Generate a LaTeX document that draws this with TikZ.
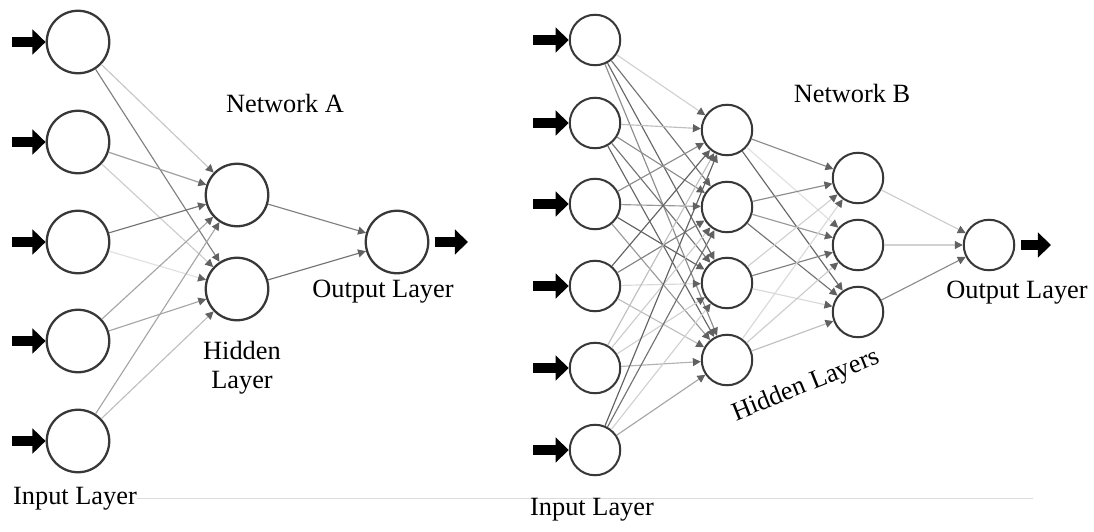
\documentclass[tikz,border=0pt]{standalone}
\usepackage{fontspec}
\setmainfont{Liberation Serif}
\usetikzlibrary{arrows.meta}
\begin{document}
\begin{tikzpicture}[x=0.02cm,y=-0.02cm,
    neuron/.style={draw=black!78,line width=1.3pt,circle,inner sep=0pt},
    link/.style={-{Triangle[length=4.5pt,width=4.5pt,color=black!62]},line width=0.65pt},
    bigarrow/.style={-{Triangle[length=7.5pt,width=14pt]},line width=6.2pt,black},
    lbl/.style={font=\fontsize{15}{16.5}\selectfont}]
  \useasboundingbox (0,0) rectangle (1094,531);
  % network A
  \def \NodesA{
    i1/78/42,
    i2/78/142,
    i3/78/242,
    i4/78/341,
    i5/78/441,
    h1/237/195,
    h2/237/289,
    o/397/242}
  \def \EdgesA{
    i1/h1/22, i1/h2/50,
    i2/h1/38, i2/h2/20,
    i3/h1/55, i3/h2/12,
    i4/h1/35, i4/h2/35,
    i5/h1/35, i5/h2/25,
    h1/o/50, h2/o/55}
  \foreach \id / \x / \y in \NodesA{
    \node[neuron,minimum size=1.25cm] (a\id) at (\x, \y) {};
  }
  \foreach \s / \t / \c in \EdgesA{
    \path[draw,link,draw=black!\c] (a\s) -- (a\t);
  }
  \foreach \id in {1,...,5}{
    \coordinate (ain\id) at (12, 0 |- ai\id);
    \draw[bigarrow] (ain\id) -- (ai\id);
  }
  \coordinate (aout) at (468, 242);
  \draw[bigarrow,shorten <=3pt] (ao) -- (aout);
  \node[lbl] (titleA) at (285, 103) {Network A};
  \node[lbl,align=center] (hidA) at (242, 368) {Hidden\\Layer};
  \node[lbl] (outA) at (383, 292) {Output Layer};
  \node[lbl] (inA) at (75, 499) {Input Layer};
  \draw[black!14,line width=0.5pt] (137, 498) -- (1033, 498);
  % network B
  \def \NodesB{
    i1/595/40,
    i2/595/123,
    i3/595/204,
    i4/595/286,
    i5/595/368,
    i6/595/450,
    h1/727/130,
    h2/727/207,
    h3/727/283,
    h4/727/360,
    g1/858/178,
    g2/858/245,
    g3/858/312,
    o/989/245}
  \def \EdgesB{
    i1/h1/18, i1/h2/55, i1/h3/60, i1/h4/45,
    i2/h1/25, i2/h2/45, i2/h3/55, i2/h4/60,
    i3/h1/45, i3/h2/40, i3/h3/62, i3/h4/40,
    i4/h1/62, i4/h2/50, i4/h3/15, i4/h4/25,
    i5/h1/25, i5/h2/20, i5/h3/18, i5/h4/30,
    i6/h1/62, i6/h2/55, i6/h3/18, i6/h4/35,
    h1/g1/45, h1/g2/12, h1/g3/60,
    h2/g1/45, h2/g2/40, h2/g3/55,
    h3/g1/18, h3/g2/50, h3/g3/15,
    h4/g1/15, h4/g2/20, h4/g3/25,
    g1/o/20, g2/o/18, g3/o/45}
  \foreach \id / \x / \y in \NodesB{
    \node[neuron,minimum size=1.01cm,line width=1.15pt] (b\id) at (\x, \y) {};
  }
  \foreach \s / \t / \c in \EdgesB{
    \path[draw,link,draw=black!\c] (b\s) -- (b\t);
  }
  \foreach \id in {1,...,6}{
    \coordinate (bin\id) at (533, 0 |- bi\id);
    \draw[bigarrow] (bin\id) -- (bi\id);
  }
  \coordinate (bout) at (1051, 245);
  \draw[bigarrow,shorten <=3pt] (bo) -- (bout);
  \node[lbl] (titleB) at (852, 93) {Network B};
  \node[lbl,rotate=22] (hidB) at (806, 386) {Hidden Layers};
  \node[lbl] (outB) at (1017, 293) {Output Layer};
  \node[lbl] (inB) at (592, 510) {Input Layer};
\end{tikzpicture}
\end{document}
